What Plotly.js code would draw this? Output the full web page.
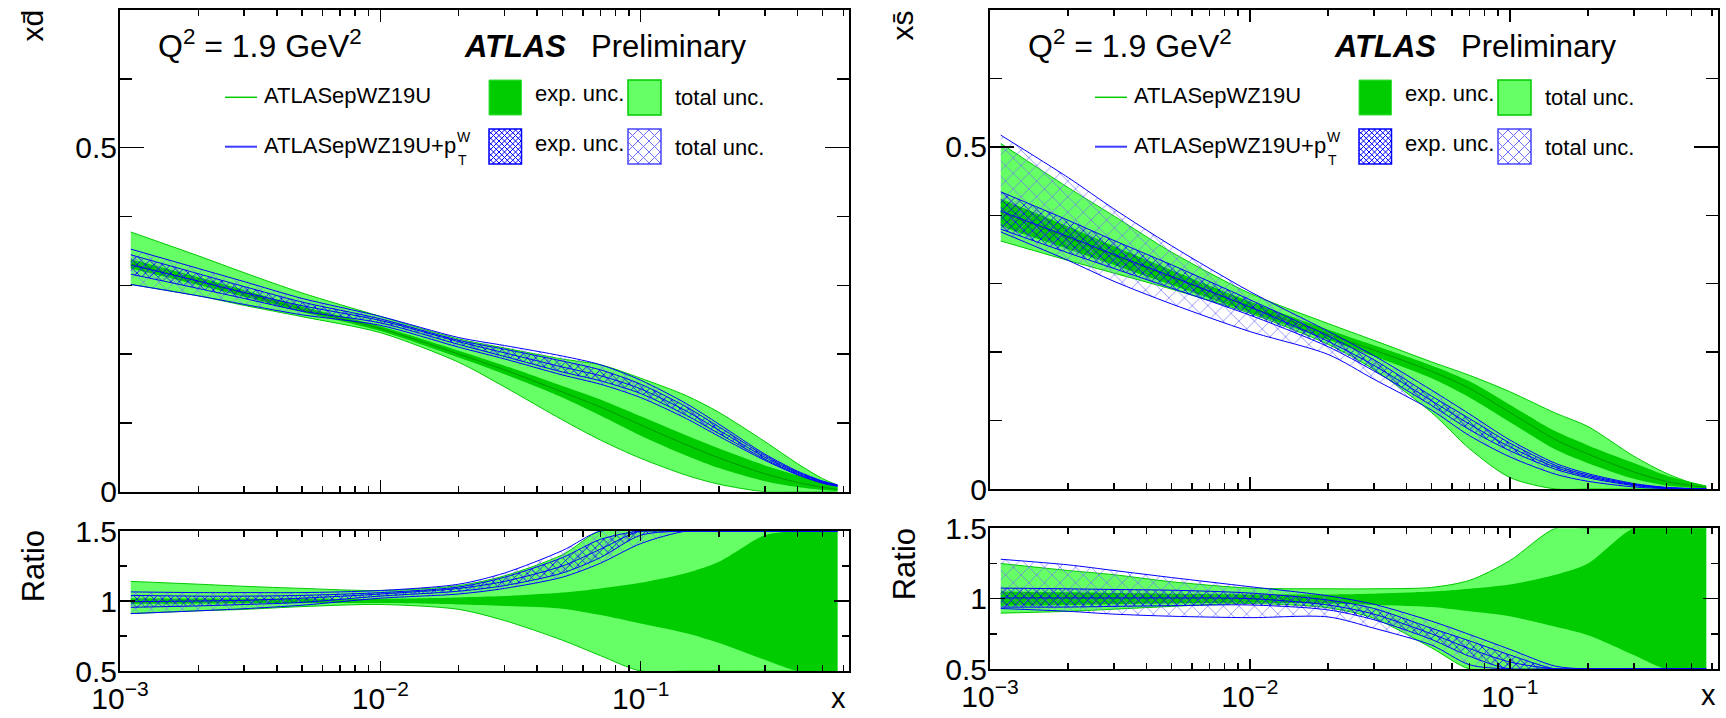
<!DOCTYPE html>
<html>
<head>
<meta charset="utf-8">
<script src="https://cdn.plot.ly/plotly-3.0.1.min.js"></script>
<style>html,body{margin:0;padding:0;overflow:hidden;background:#fff}</style>
</head>
<body>
<div id="plot" style="width:1726px;height:718px"></div>
<script>
// ---------------- data ----------------
const xValues = [0.0011, 0.002, 0.003, 0.005, 0.01, 0.02, 0.03, 0.05, 0.07, 0.1, 0.15, 0.2, 0.3, 0.4, 0.5, 0.57];

// x dbar : ATLASepWZ19U central value, and bands as ratio to that central value
const dbarCentral   = [0.331, 0.306, 0.288, 0.265, 0.237, 0.200, 0.177, 0.145, 0.123, 0.097, 0.068, 0.049, 0.026, 0.0136, 0.0063, 0.0034];
const dbarExpLo     = [0.98, 0.982, 0.984, 0.985, 0.985, 0.975, 0.965, 0.945, 0.90, 0.84, 0.77, 0.70, 0.58, 0.49, 0.40, 0.35];
const dbarExpHi     = [1.02, 1.018, 1.017, 1.016, 1.015, 1.025, 1.035, 1.06, 1.09, 1.13, 1.20, 1.28, 1.47, 1.75, 2.0, 2.2];
const dbarTotLo     = [0.91, 0.93, 0.94, 0.96, 0.975, 0.94, 0.86, 0.72, 0.61, 0.50, 0.35, 0.22, -0.05, -0.3, -0.4, -0.5];
const dbarTotHi     = [1.14, 1.12, 1.105, 1.09, 1.075, 1.11, 1.18, 1.33, 1.50, 1.70, 2.05, 2.35, 2.8, 3.0, 3.0, 2.9];
// ATLASepWZ19U+pTW, as ratio to ATLASepWZ19U central value
const dbarPtCentral = [0.995, 1.0, 1.005, 1.02, 1.05, 1.09, 1.14, 1.25, 1.37, 1.54, 1.72, 1.82, 1.92, 2.0, 2.2, 2.6];
const dbarPtExpLo   = [0.955, 0.965, 0.975, 0.99, 1.035, 1.07, 1.11, 1.20, 1.31, 1.47, 1.63, 1.72, 1.82, 1.88, 2.05, 2.45];
const dbarPtExpHi   = [1.04, 1.035, 1.035, 1.04, 1.06, 1.10, 1.17, 1.31, 1.44, 1.61, 1.81, 1.92, 2.02, 2.1, 2.35, 2.75];
const dbarPtTotLo   = [0.91, 0.93, 0.945, 0.97, 1.02, 1.05, 1.09, 1.17, 1.27, 1.41, 1.56, 1.64, 1.75, 1.8, 1.95, 2.3];
const dbarPtTotHi   = [1.065, 1.06, 1.06, 1.06, 1.075, 1.12, 1.2, 1.36, 1.50, 1.67, 1.88, 2.0, 2.1, 2.2, 2.45, 2.9];

// x sbar
const sbarCentral   = [0.404, 0.367, 0.341, 0.309, 0.266, 0.226, 0.203, 0.172, 0.147, 0.112, 0.072, 0.051, 0.025, 0.011, 0.005, 0.0025];
const sbarExpLo     = [0.95, 0.955, 0.96, 0.965, 0.97, 0.965, 0.955, 0.94, 0.91, 0.875, 0.80, 0.74, 0.60, 0.48, 0.40, 0.35];
const sbarExpHi     = [1.05, 1.045, 1.04, 1.035, 1.03, 1.03, 1.035, 1.05, 1.07, 1.10, 1.17, 1.25, 1.52, 1.8, 2.0, 2.1];
const sbarTotLo     = [0.897, 0.91, 0.925, 0.945, 0.965, 0.935, 0.86, 0.65, 0.40, 0.15, -0.1, -0.3, -0.5, -0.5, -0.5, -0.5];
const sbarTotHi     = [1.25, 1.2, 1.17, 1.12, 1.075, 1.07, 1.07, 1.08, 1.13, 1.27, 1.54, 1.79, 1.92, 2.09, 1.8, 1.6];
const sbarPtCentral = [1.005, 1.005, 1.005, 1.005, 1.0, 0.955, 0.89, 0.75, 0.645, 0.55, 0.44, 0.36, 0.24, 0.15, 0.08, 0.045];
const sbarPtExpLo   = [0.94, 0.94, 0.945, 0.95, 0.955, 0.92, 0.85, 0.71, 0.59, 0.50, 0.40, 0.32, 0.2, 0.12, 0.06, 0.03];
const sbarPtExpHi   = [1.075, 1.07, 1.065, 1.06, 1.04, 0.99, 0.93, 0.79, 0.70, 0.60, 0.48, 0.40, 0.28, 0.18, 0.10, 0.06];
const sbarPtTotLo   = [0.93, 0.91, 0.89, 0.875, 0.865, 0.87, 0.79, 0.67, 0.53, 0.42, 0.30, 0.22, 0.12, 0.06, 0.03, 0.01];
const sbarPtTotHi   = [1.28, 1.24, 1.2, 1.15, 1.085, 1.02, 0.96, 0.84, 0.745, 0.64, 0.52, 0.44, 0.32, 0.22, 0.15, 0.10];

// axis tick values / labels
const xMajorTicks = [0.001, 0.01, 0.1];
const xMinorTicks = [0.002,0.003,0.004,0.005,0.006,0.007,0.008,0.009,0.02,0.03,0.04,0.05,0.06,0.07,0.08,0.09,0.2,0.3,0.4,0.5,0.6];
const xTickLabels = ['10<sup>\u22123</sup>', '10<sup>\u22122</sup>', '10<sup>\u22121</sup>'];
const yTopTicks = [0, 0.5];
const yTopTickLabels = ['0', '0.5'];
const yTopMinor = [0.1, 0.2, 0.3, 0.4, 0.6];
const yRatioTicks = [0.5, 1, 1.5];
const yRatioTickLabels = ['0.5', '1', '1.5'];
const yRatioMinor = [0.75, 1.25];

// legend / text labels
const seriesNames = ['ATLASepWZ19U', 'ATLASepWZ19U+p'];
const bandNames = ['exp. unc.', 'total unc.'];

// ---------------- styling ----------------
const W = 1726, H = 718;
const FONT = 'Liberation Sans, Arial, Helvetica, sans-serif';
const GREEN_EDGE = 'rgb(0,200,0)';
const GREEN_LIGHT = 'rgb(102,255,102)';
const GREEN_DARK = 'rgb(0,204,0)';
const GREEN_CENTRAL = 'rgb(0,150,0)';
const BLUE = 'rgb(0,0,255)';
const BLUE_LIGHT = 'rgb(110,110,255)';
const px = v => v / W;
const py = v => 1 - v / H;
const LEG = 22;

const cv = document.createElement('canvas').getContext('2d');
function textWidth(s, size) { cv.font = size + 'px "Liberation Sans", Arial, sans-serif'; return cv.measureText(s).width; }

function topVals(ratio, central) { return ratio.map((r, i) => Math.max(0, r * central[i])); }
function ratioVals(ratio) { return ratio.map(r => Math.min(1.5, Math.max(0.5, r))); }

function panel(c, g, b, xa, ya, isRatio) {
  const f = isRatio ? (r => ratioVals(r)) : (r => topVals(r, c));
  const ones = c.map(v => v / v);
  const base = {x: xValues, xaxis: xa, yaxis: ya, mode: 'lines', hoverinfo: 'skip', showlegend: false};
  const sp = {shape: 'spline', smoothing: 0.8};
  return [
    Object.assign({}, base, {y: f(g.totLo), line: Object.assign({color: GREEN_EDGE, width: 1}, sp)}),
    Object.assign({}, base, {y: f(g.totHi), fill: 'tonexty', fillcolor: GREEN_LIGHT, line: Object.assign({color: GREEN_EDGE, width: 1}, sp)}),
    Object.assign({}, base, {y: f(g.expLo), line: Object.assign({color: GREEN_DARK, width: 0}, sp)}),
    Object.assign({}, base, {y: f(g.expHi), fill: 'tonexty', fillcolor: GREEN_DARK, line: Object.assign({color: GREEN_DARK, width: 0}, sp)}),
    Object.assign({}, base, {y: f(ones), line: Object.assign({color: GREEN_CENTRAL, width: isRatio ? 0 : 1}, sp)}),
    Object.assign({}, base, {y: f(b.totLo), line: Object.assign({color: BLUE, width: 1}, sp)}),
    Object.assign({}, base, {y: f(b.totHi), fill: 'tonexty', fillcolor: 'rgba(0,0,0,0)',
      fillpattern: {shape: 'x', fgcolor: BLUE_LIGHT, bgcolor: 'rgba(0,0,0,0)', size: 11, solidity: 0.12, fillmode: 'replace'},
      line: Object.assign({color: BLUE, width: 1}, sp)}),
    Object.assign({}, base, {y: f(b.expLo), line: Object.assign({color: BLUE, width: 1}, sp)}),
    Object.assign({}, base, {y: f(b.expHi), fill: 'tonexty', fillcolor: 'rgba(0,0,0,0)',
      fillpattern: {shape: 'x', fgcolor: BLUE, bgcolor: 'rgba(0,0,0,0)', size: 6, solidity: 0.25, fillmode: 'replace'},
      line: Object.assign({color: BLUE, width: 1}, sp)}),
    Object.assign({}, base, {y: f(b.c), line: Object.assign({color: BLUE, width: 1}, sp)})
  ];
}

const gD = {expLo: dbarExpLo, expHi: dbarExpHi, totLo: dbarTotLo, totHi: dbarTotHi};
const bD = {c: dbarPtCentral, expLo: dbarPtExpLo, expHi: dbarPtExpHi, totLo: dbarPtTotLo, totHi: dbarPtTotHi};
const gS = {expLo: sbarExpLo, expHi: sbarExpHi, totLo: sbarTotLo, totHi: sbarTotHi};
const bS = {c: sbarPtCentral, expLo: sbarPtExpLo, expHi: sbarPtExpHi, totLo: sbarPtTotLo, totHi: sbarPtTotHi};

const data = [].concat(
  panel(dbarCentral, gD, bD, 'x', 'y', false),
  panel(dbarCentral, gD, bD, 'x2', 'y2', true),
  panel(sbarCentral, gS, bS, 'x3', 'y3', false),
  panel(sbarCentral, gS, bS, 'x4', 'y4', true)
);

// ---------------- axes ----------------
const tickFont = {family: FONT, size: 30, color: 'black'};
function xAxis(dom, anchor, showLabels, major, minor) {
  return {
    domain: dom, anchor: anchor, type: 'log', range: [-3, -0.2], fixedrange: true,
    showgrid: false, zeroline: false, showline: true, linecolor: 'black', linewidth: 2, mirror: 'ticks',
    ticks: 'inside', ticklen: major, tickwidth: 1.5, tickcolor: 'black',
    tickmode: 'array', tickvals: xMajorTicks, ticktext: xTickLabels, showticklabels: showLabels, tickfont: tickFont,
    minor: {tickmode: 'array', tickvals: xMinorTicks, ticks: 'inside', ticklen: minor, tickwidth: 1.5, tickcolor: 'black', showgrid: false}
  };
}
function yAxis(dom, anchor, range, tv, tt, mv, major, minor) {
  return {
    domain: dom, anchor: anchor, range: range, fixedrange: true,
    showgrid: false, zeroline: false, showline: true, linecolor: 'black', linewidth: 2, mirror: 'ticks',
    ticks: 'inside', ticklen: major, tickwidth: 1.5, tickcolor: 'black', ticklabelstandoff: -5,
    tickmode: 'array', tickvals: tv, ticktext: tt, tickfont: tickFont,
    minor: {tickmode: 'array', tickvals: mv, ticks: 'inside', ticklen: minor, tickwidth: 1.5, tickcolor: 'black', showgrid: false}
  };
}
const LX = [px(120), px(849)], RX = [px(990), px(1717.7)];
const LTOP = [py(491.7), py(10)], LRAT = [py(671), py(531)];
const RTOP = [py(489), py(10)], RRAT = [py(669), py(528.3)];

// ---------------- annotations & legend ----------------
const annotations = [];
const shapes = [];
function txt(text, xL, baseline, size, opts) {
  annotations.push(Object.assign({
    text: text, xref: 'paper', yref: 'paper', x: px(xL), y: py(baseline + 0.212 * size + 1),
    xanchor: 'left', yanchor: 'bottom', showarrow: false, borderpad: 0,
    font: {family: FONT, size: size, color: 'black'}
  }, opts || {}));
}
function rot(text, cx, cy, size) {
  annotations.push({text: text, xref: 'paper', yref: 'paper', x: px(cx), y: py(cy), xanchor: 'center', yanchor: 'middle',
    textangle: -90, showarrow: false, borderpad: 0, font: {family: FONT, size: size, color: 'black'}});
}
function hatch(x0, y0, x1, y1, s, color, width) {
  for (let c = x0 - y1; c <= x1 - y0; c += s) {
    const xa = Math.max(x0, y0 + c), xb = Math.min(x1, y1 + c);
    if (xb > xa) shapes.push({type: 'line', xref: 'paper', yref: 'paper', x0: px(xa), y0: py(xa - c), x1: px(xb), y1: py(xb - c), line: {color: color, width: width}});
  }
  for (let c = x0 + y0; c <= x1 + y1; c += s) {
    const xa = Math.max(x0, c - y1), xb = Math.min(x1, c - y0);
    if (xb > xa) shapes.push({type: 'line', xref: 'paper', yref: 'paper', x0: px(xa), y0: py(c - xa), x1: px(xb), y1: py(c - xb), line: {color: color, width: width}});
  }
}
function rect(x0, y0, x1, y1, fill, lc, lw) {
  shapes.push({type: 'rect', xref: 'paper', yref: 'paper', x0: px(x0), y0: py(y0), x1: px(x1), y1: py(y1), fillcolor: fill, line: {color: lc, width: lw}});
}
function hline(x0, x1, y, color, width) {
  shapes.push({type: 'line', xref: 'paper', yref: 'paper', x0: px(x0), y0: py(y), x1: px(x1), y1: py(y), line: {color: color, width: width}});
}

function decorate(L, R, ytitle, ytitleCx, ratioCx, ratioCy, xBase) {
  txt('Q<sup>2</sup> = 1.9 GeV<sup>2</sup>', L + 36.7, 57, 32);
  txt('<b><i>ATLAS</i></b>', L + 342.7, 57.5, 31);
  txt('Preliminary', L + 470, 57.5, 31);
  // legend row 1
  hline(L + 105, L + 137, 97.3, GREEN_DARK, 1.5);
  txt(seriesNames[0], L + 143.3, 103.3, LEG);
  rect(L + 369, 80, L + 401.5, 115, GREEN_DARK, 'rgb(60,225,60)', 1);
  txt(bandNames[0], L + 413.7, 101.7, LEG);
  rect(L + 508, 80, L + 541, 115, GREEN_LIGHT, GREEN_DARK, 1.5);
  txt(bandNames[1], L + 553.7, 105, LEG);
  // legend row 2
  hline(L + 105, L + 137, 146.7, 'rgb(60,60,255)', 2);
  txt(seriesNames[1], L + 143.3, 153.3, LEG);
  const wx = L + 143.3 + textWidth(seriesNames[1], LEG) + 1;
  txt('W', wx, 141.7, 14);
  txt('T', wx + 1, 165, 14);
  hatch(L + 369, 129, L + 401.5, 164, 5.5, BLUE, 1);
  rect(L + 369, 129, L + 401.5, 164, 'rgba(0,0,0,0)', BLUE, 1.5);
  txt(bandNames[0], L + 413.7, 151.7, LEG);
  hatch(L + 508, 129, L + 541, 164, 11, BLUE_LIGHT, 1);
  rect(L + 508, 129, L + 541, 164, 'rgba(0,0,0,0)', 'rgb(70,70,255)', 1.5);
  txt(bandNames[1], L + 553.7, 155, LEG);
  // axis titles
  rot(ytitle, ytitleCx, 26, 30);
  rot('Ratio', ratioCx, ratioCy, 31);
  annotations.push({text: 'x', xref: 'paper', yref: 'paper', x: px(R), y: py(xBase + 0.212 * 29 + 1), xanchor: 'right', yanchor: 'bottom',
    showarrow: false, borderpad: 0, font: {family: FONT, size: 29, color: 'black'}});
}
decorate(120, 847, 'xd\u0304', 31.6, 33.3, 566, 708);
decorate(990, 1716.7, 'xs\u0304', 901.6, 904.3, 564, 705);

const layout = {
  width: W, height: H, margin: {l: 0, r: 0, t: 0, b: 0},
  paper_bgcolor: 'white', plot_bgcolor: 'white', showlegend: false,
  font: {family: FONT, color: 'black'},
  xaxis: xAxis(LX, 'y', false, 12, 6),
  yaxis: yAxis(LTOP, 'x', [0, 0.7], yTopTicks, yTopTickLabels, yTopMinor, 24, 12),
  xaxis2: xAxis(LX, 'y2', true, 10, 6),
  yaxis2: yAxis(LRAT, 'x2', [0.5, 1.5], yRatioTicks, yRatioTickLabels, yRatioMinor, 15, 7),
  xaxis3: xAxis(RX, 'y3', false, 12, 6),
  yaxis3: yAxis(RTOP, 'x3', [0, 0.7], yTopTicks, yTopTickLabels, yTopMinor, 24, 12),
  xaxis4: xAxis(RX, 'y4', true, 10, 6),
  yaxis4: yAxis(RRAT, 'x4', [0.5, 1.5], yRatioTicks, yRatioTickLabels, yRatioMinor, 15, 7),
  annotations: annotations,
  shapes: shapes
};

Plotly.newPlot('plot', data, layout, {staticPlot: true, displayModeBar: false});
</script>
</body>
</html>
